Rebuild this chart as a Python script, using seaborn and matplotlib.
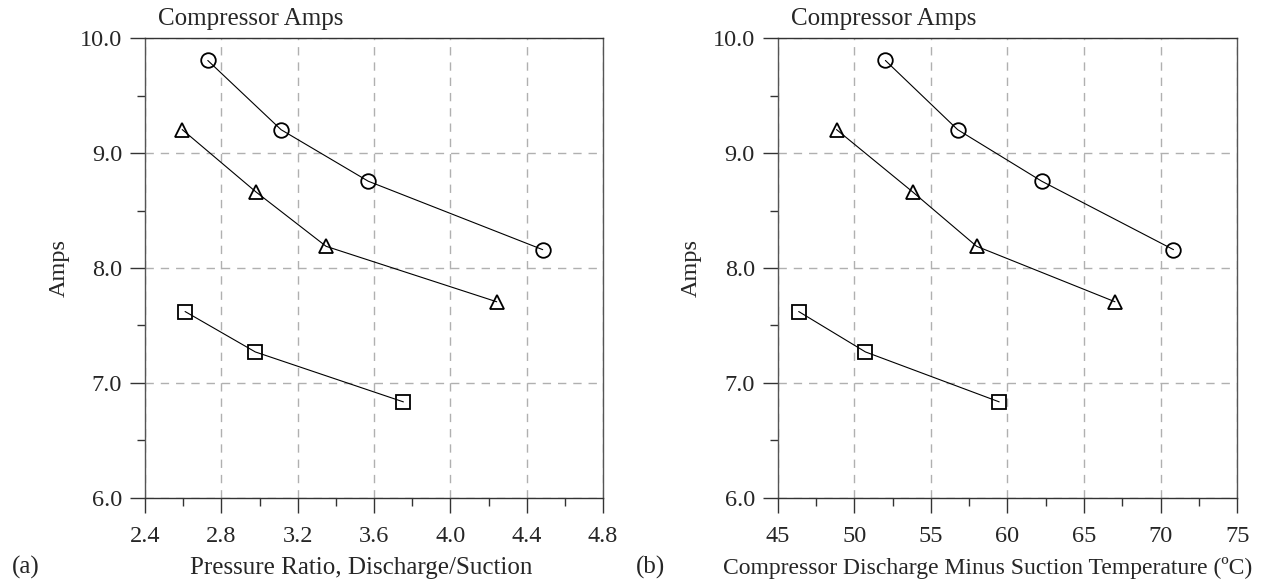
import matplotlib
matplotlib.use("Agg")
import matplotlib.pyplot as plt
from matplotlib.ticker import MultipleLocator, FormatStrFormatter
import seaborn as sns
import pandas as pd

# ---- data ----
pr_circle = [2.729, 3.113, 3.570, 4.484]
amps_circle = [9.807, 9.204, 8.755, 8.159]
pr_triangle = [2.595, 2.982, 3.349, 4.243]
amps_triangle = [9.205, 8.661, 8.188, 7.705]
pr_square = [2.610, 2.978, 3.754]
amps_square = [7.620, 7.268, 6.833]

dt_circle = [52.03, 56.75, 62.24, 70.84]
dt_triangle = [48.84, 53.82, 57.99, 67.02]
dt_square = [46.37, 50.73, 59.46]

title_text = "Compressor Amps"
ylabel_text = "Amps"
xlabel_a = "Pressure Ratio, Discharge/Suction"
xlabel_b = "Compressor Discharge Minus Suction Temperature (\u00baC)"
panel_labels = ["(a)", "(b)"]

sns.set_theme(style="white")
plt.rcParams["font.family"] = ["Liberation Serif", "DejaVu Serif"]

FS = 17.5
W, H = 1262, 586
fig = plt.figure(figsize=(W / 100, H / 100), dpi=100)
bottom = 1 - 497.5 / H
height = 459.2 / H
ax1 = fig.add_axes([145 / W, bottom, 458 / W, height])
ax2 = fig.add_axes([777.7 / W, bottom, 459.5 / W, height])

line_kw = dict(color="black", linewidth=0.8, markersize=10.5,
               markerfacecolor="none", markeredgecolor="black",
               markeredgewidth=1.3, legend=False)


def draw(ax, xs_list, ys_list):
    for xs, ys, m in zip(xs_list, ys_list, ["o", "^", "s"]):
        df = pd.DataFrame({"x": xs, "y": ys})
        sns.lineplot(data=df, x="x", y="y", marker=m, ax=ax, **line_kw)


draw(ax1, [pr_circle, pr_triangle, pr_square],
     [amps_circle, amps_triangle, amps_square])
draw(ax2, [dt_circle, dt_triangle, dt_square],
     [amps_circle, amps_triangle, amps_square])

ax1.set_xlim(2.4, 4.8)
ax1.xaxis.set_major_locator(MultipleLocator(0.4))
ax1.xaxis.set_minor_locator(MultipleLocator(0.2))
ax1.xaxis.set_major_formatter(FormatStrFormatter("%.1f"))
ax2.set_xlim(45, 75)
ax2.xaxis.set_major_locator(MultipleLocator(5))
ax2.xaxis.set_minor_locator(MultipleLocator(2.5))
ax2.xaxis.set_major_formatter(FormatStrFormatter("%d"))

for ax, xl, xfs, title_x, xl_x in [(ax1, xlabel_a, 18, 0.028, 0.473),
                                   (ax2, xlabel_b, 17, 0.030, 0.457)]:
    ax.set_ylim(6.0, 10.0)
    ax.yaxis.set_major_locator(MultipleLocator(1.0))
    ax.yaxis.set_minor_locator(MultipleLocator(0.5))
    ax.yaxis.set_major_formatter(FormatStrFormatter("%.1f"))
    ax.grid(True, which="major", color="#b0b0b0", linestyle=(0, (6, 5)),
            linewidth=1.0)
    ax.set_axisbelow(True)
    for s in ax.spines.values():
        s.set_visible(True)
        s.set_color("#555555")
        s.set_linewidth(1.0)
    ax.spines["bottom"].set_color("#333333")
    ax.spines["top"].set_color("#333333")
    ax.tick_params(axis="both", which="major", direction="out", length=10.5,
                   width=1.0, color="#333333", labelsize=FS,
                   bottom=True, left=True)
    ax.tick_params(axis="x", which="major", pad=10)
    ax.tick_params(axis="y", which="major", pad=6)
    ax.tick_params(axis="both", which="minor", direction="out", length=6,
                   width=1.0, color="#333333", bottom=True, left=True)
    ax.set_ylabel(ylabel_text, fontsize=FS, va="center")
    ax.yaxis.set_label_coords(-0.188, 0.5)
    ax.set_xlabel(xl, fontsize=xfs, va="center")
    ax.xaxis.set_label_coords(xl_x, -0.153)
    ax.text(title_x, 1.041, title_text, transform=ax.transAxes,
            ha="left", va="center", fontsize=FS + 0.5)

fig.text(12 / W, 1 - 567 / H, panel_labels[0], ha="left", va="center",
         fontsize=FS + 0.5)
fig.text(636 / W, 1 - 567 / H, panel_labels[1], ha="left", va="center",
         fontsize=FS + 0.5)

fig.savefig("out.png", dpi=100, facecolor="white")
